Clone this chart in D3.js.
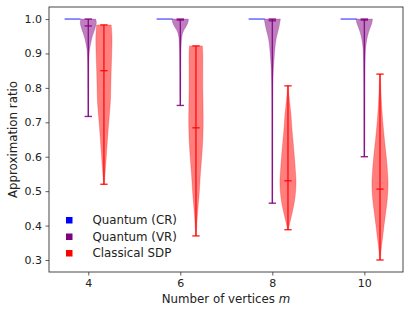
<!DOCTYPE html>
<html>
<head>
<meta charset="utf-8">
<script src="https://cdn.jsdelivr.net/npm/d3@7"></script>
<style>
  body { margin: 0; background: #fff; }
  text { font-family: "DejaVu Sans", sans-serif; fill: #222; }
</style>
</head>
<body>
<svg id="chart"></svg>
<script>
// vertices m
var sizes = [4, 6, 8, 10];
var yTicks = [0.3, 0.4, 0.5, 0.6, 0.7, 0.8, 0.9, 1.0];

// Quantum (CR): every run hits ratio 1.0
var crValues = [1.0, 1.0, 1.0, 1.0];

// Quantum (VR): min / median / max
var vrMin = [0.717, 0.749, 0.465, 0.60];
var vrMed = [0.980, 0.997, 0.995, 0.997];
var vrMax = [1.0, 1.0, 1.0, 1.0];
// density profile, [ratio, relative density]
var vrDensity = [
  [[1.0, 0.9], [0.99, 1.0], [0.97, 0.8], [0.95, 0.5], [0.93, 0.3], [0.91, 0.15], [0.88, 0.08], [0.8, 0.05], [0.75, 0.04], [0.717, 0.03]],
  [[1.0, 1.0], [0.99, 0.95], [0.98, 0.75], [0.97, 0.5], [0.96, 0.3], [0.95, 0.2], [0.93, 0.12], [0.9, 0.08], [0.85, 0.06], [0.8, 0.05], [0.749, 0.03]],
  [[1.0, 1.0], [0.98, 0.85], [0.96, 0.65], [0.94, 0.45], [0.91, 0.3], [0.88, 0.2], [0.85, 0.12], [0.82, 0.08], [0.75, 0.05], [0.6, 0.04], [0.465, 0.03]],
  [[1.0, 1.0], [0.99, 0.95], [0.98, 0.8], [0.96, 0.5], [0.94, 0.3], [0.92, 0.18], [0.9, 0.12], [0.85, 0.08], [0.8, 0.06], [0.7, 0.05], [0.6, 0.03]]
];

// Classical SDP
var sdpMin = [0.52, 0.37, 0.388, 0.30];
var sdpMed = [0.85, 0.684, 0.53, 0.506];
var sdpMax = [0.983, 0.922, 0.806, 0.84];
var sdpDensity = [
  [[0.983, 0.9], [0.95, 1.0], [0.9, 0.97], [0.85, 0.9], [0.8, 0.85], [0.76, 0.8], [0.7, 0.6], [0.67, 0.5], [0.62, 0.35], [0.57, 0.2], [0.54, 0.1], [0.52, 0.04]],
  [[0.922, 0.8], [0.9, 0.85], [0.85, 0.85], [0.8, 0.85], [0.75, 0.88], [0.7, 0.9], [0.65, 0.85], [0.6, 0.72], [0.55, 0.55], [0.5, 0.42], [0.45, 0.25], [0.42, 0.15], [0.39, 0.08], [0.37, 0.04]],
  [[0.806, 0.05], [0.78, 0.12], [0.75, 0.25], [0.72, 0.38], [0.68, 0.5], [0.64, 0.65], [0.6, 0.8], [0.56, 0.92], [0.53, 1.0], [0.5, 0.95], [0.47, 0.8], [0.44, 0.55], [0.42, 0.35], [0.4, 0.15], [0.388, 0.05]],
  [[0.84, 0.04], [0.8, 0.1], [0.75, 0.2], [0.7, 0.35], [0.65, 0.55], [0.6, 0.78], [0.55, 0.95], [0.52, 1.0], [0.48, 0.92], [0.44, 0.72], [0.4, 0.5], [0.36, 0.3], [0.33, 0.14], [0.3, 0.04]]
];

var legendLabels = ["Quantum (CR)", "Quantum (VR)", "Classical SDP"];
var colors = ["#0000ff", "#800080", "#ff0000"];

var W = 411, H = 313;
var margin = { top: 7, right: 8, bottom: 41, left: 49 };
var width = W - margin.left - margin.right,
    height = H - margin.top - margin.bottom;

var svg = d3.select("#chart").attr("width", W).attr("height", H);
var g = svg.append("g").attr("transform", "translate(" + margin.left + "," + margin.top + ")");

var x = d3.scaleLinear().domain([3.146, 10.84]).range([0, width]);
var y = d3.scaleLinear().domain([0.2651, 1.0350]).range([height, 0]);
var halfW = d3.scaleLinear().domain([0, 1]).range([0, 0.175]); // in m units
var offsets = [-0.34, 0, 0.34];
var capHalf = 0.08;

// axes
var xAxis = g.append("g").attr("transform", "translate(0," + height + ")")
  .call(d3.axisBottom(x).tickValues(sizes).tickSize(3.5).tickPadding(3.5).tickFormat(d3.format("d")));
var yAxis = g.append("g")
  .call(d3.axisLeft(y).tickValues(yTicks).tickSize(3.5).tickPadding(3.5).tickFormat(d3.format(".1f")));
[xAxis, yAxis].forEach(function (a) {
  a.select(".domain").remove();
  a.selectAll("line").attr("stroke", "#333").attr("stroke-width", 0.8);
  a.selectAll("text").style("font-size", "11px").attr("fill", "#222");
});

g.append("rect").attr("width", width).attr("height", height)
  .attr("fill", "none").attr("stroke", "#333").attr("stroke-width", 0.9);

var area = d3.area()
  .curve(d3.curveCatmullRom)
  .y(function (d) { return y(d[0]); });

function violin(pos, dens, lo, med, hi, color) {
  var a = area
    .x0(function (d) { return x(pos - halfW(d[1])); })
    .x1(function (d) { return x(pos + halfW(d[1])); });
  g.append("path").datum(dens).attr("d", a)
    .attr("fill", color).attr("fill-opacity", 0.5)
    .attr("stroke", color).attr("stroke-opacity", 0.3).attr("stroke-width", 0.8);
  var lines = g.append("g").attr("stroke", color).attr("stroke-width", 1.4).attr("stroke-opacity", 0.85);
  lines.append("line").attr("x1", x(pos)).attr("x2", x(pos)).attr("y1", y(hi)).attr("y2", y(lo));
  [lo, med, hi].forEach(function (v) {
    lines.append("line").attr("x1", x(pos - capHalf)).attr("x2", x(pos + capHalf))
      .attr("y1", y(v)).attr("y2", y(v));
  });
}

sizes.forEach(function (m, i) {
  // CR collapses to a single line at 1.0
  g.append("line")
    .attr("x1", x(m + offsets[0] - 0.175)).attr("x2", x(m + offsets[0] + 0.175))
    .attr("y1", y(crValues[i])).attr("y2", y(crValues[i]))
    .attr("stroke", colors[0]).attr("stroke-opacity", 0.6).attr("stroke-width", 1.5);
  violin(m + offsets[1], vrDensity[i], vrMin[i], vrMed[i], vrMax[i], colors[1]);
  violin(m + offsets[2], sdpDensity[i], sdpMin[i], sdpMed[i], sdpMax[i], colors[2]);
});

// legend
var leg = g.append("g").attr("transform", "translate(17,213)");
legendLabels.forEach(function (t, i) {
  var row = leg.append("g").attr("transform", "translate(0," + (i * 16.5) + ")");
  row.append("rect").attr("x", 0).attr("y", -3).attr("width", 6.5).attr("height", 6.5).attr("fill", colors[i]);
  row.append("text").attr("x", 26.5).attr("y", 4.3).style("font-size", "11.8px").text(t);
});

// axis labels
var xl = svg.append("text").attr("x", margin.left + width / 2).attr("y", 303)
  .attr("text-anchor", "middle").style("font-size", "11.8px");
xl.append("tspan").text("Number of vertices ");
xl.append("tspan").style("font-style", "italic").text("m");

svg.append("text").attr("transform", "translate(17," + (margin.top + height / 2) + ") rotate(-90)")
  .attr("text-anchor", "middle").style("font-size", "11.8px").text("Approximation ratio");
</script>
</body>
</html>
